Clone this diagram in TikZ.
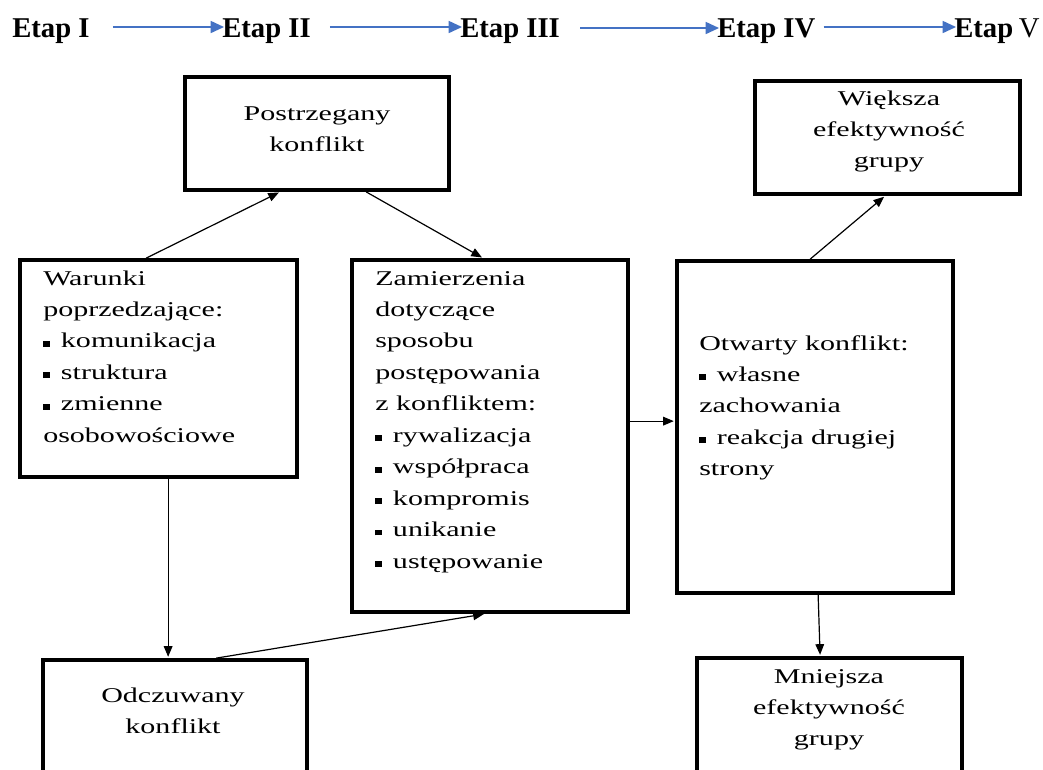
\documentclass[tikz,border=0pt]{standalone}
\usepackage{fontspec}
\setmainfont{Liberation Serif}
\usepackage{graphicx}
\usetikzlibrary{arrows.meta,calc,fit}
\definecolor{stageblue}{HTML}{4472C4}

% small square bullet used in the lists
\newcommand{\sq}{\rule[0.06em]{0.23em}{0.28em}\hspace{0.36em}}
% wide-set text blocks (left aligned / centred)
\newcommand{\wideleft}[1]{\scalebox{1.43}[1]{\begin{tabular}[t]{@{}l@{}}#1\end{tabular}}}
\newcommand{\widecenter}[1]{\scalebox{1.43}[1]{\begin{tabular}[t]{@{}c@{}}#1\end{tabular}}}

\begin{document}
\begin{tikzpicture}[x=0.75pt,y=-0.75pt,
  head/.style={anchor=base west,inner sep=0pt,font=\fontsize{21.5}{24}\selectfont\bfseries},
  stagearrow/.style={draw=stageblue,line width=1.2pt,-{Triangle[length=10pt,width=9pt]}},
  box/.style={draw,line width=2.8pt,inner sep=0pt},
  txt/.style={inner sep=0pt,font=\fontsize{15.75}{23.6}\selectfont},
  conn/.style={draw,line width=0.9pt,-{Triangle[length=8pt,width=6.5pt]},shorten >=1pt}]

\useasboundingbox (0,0) rectangle (1043,769);
\clip (0,0) rectangle (1043,769);
\fill[white] (0,0) rectangle (1043,769);

% stage headings
\node[head] (h1) at (12,37) {Etap I};
\node[head] (h2) at (222,37) {Etap II};
\node[head] (h3) at (460,37) {Etap III};
\node[head] (h4) at (717,37) {Etap IV};
\node[head] (h5) at (954,37) {Etap\hspace{0.2em}\textnormal{V}};

\draw[stagearrow] ($(h1.base east)+(23,-10)$) -- ($(h2.base west)+(2,-10)$);
\draw[stagearrow] ($(h2.base east)+(19,-10)$) -- ($(h3.base west)+(2,-10)$);
\draw[stagearrow] ($(h3.base east)+(20,-9)$) -- ($(h4.base west)+(2,-9)$);
\draw[stagearrow] ($(h4.base east)+(8,-10)$) -- ($(h5.base west)+(2,-10)$);

% boxes
\node[box,fit={(185,77) (449,190)}] (post) {};
\node[box,fit={(755,81) (1020,194)}] (wie) {};
\node[box,fit={(20,260) (297,477)}] (war) {};
\node[box,fit={(352,260) (628,612)}] (zam) {};
\node[box,fit={(677,261) (953,593)}] (otw) {};
\node[box,fit={(43,660) (307,800)}] (odc) {};
\node[box,fit={(697,658) (962,800)}] (mni) {};

% box texts
\node[txt,anchor=base] (postt) at (317,120) {\widecenter{Postrzegany\\konflikt}};
\node[txt,anchor=base] (wiet) at (889,105) {\widecenter{Większa\\efektywność\\grupy}};
\node[txt,anchor=base west] (wart) at (43,285) {\wideleft{Warunki\\poprzedzające:\\\sq komunikacja\\\sq struktura\\\sq zmienne\\osobowościowe}};
\node[txt,anchor=base west] (zamt) at (375,285) {\wideleft{Zamierzenia\\dotyczące\\sposobu\\postępowania\\z konfliktem:\\\sq rywalizacja\\\sq współpraca\\\sq kompromis\\\sq unikanie\\\sq ustępowanie}};
\node[txt,anchor=base west] (otwt) at (699,350) {\wideleft{Otwarty konflikt:\\\sq własne\\zachowania\\\sq reakcja drugiej\\strony}};
\node[txt,anchor=base] (odct) at (173,702) {\widecenter{Odczuwany\\konflikt}};
\node[txt,anchor=base] (mnit) at (829,683) {\widecenter{Mniejsza\\efektywność\\grupy}};

% connectors
\draw[conn] ($(war.north west)+(128,0)$) -- ($(post.south west)+(97,0)$);
\draw[conn] ($(post.south west)+(183,0)$) -- ($(zam.north west)+(133,0)$);
\draw[conn] ($(war.south west)+(150,0)$) -- ($(odc.north west)+(127,0)$);
\draw[conn] ($(odc.north west)+(175,0)$) -- ($(zam.south west)+(135,0)$);
\draw[conn] ($(zam.north east)+(0,163)$) -- ($(otw.north west)+(0,162)$);
\draw[conn] ($(otw.north west)+(135,0)$) -- ($(wie.south west)+(132,0)$);
\draw[conn] ($(otw.south west)+(143,0)$) -- ($(mni.north west)+(125,0)$);
\end{tikzpicture}
\end{document}
